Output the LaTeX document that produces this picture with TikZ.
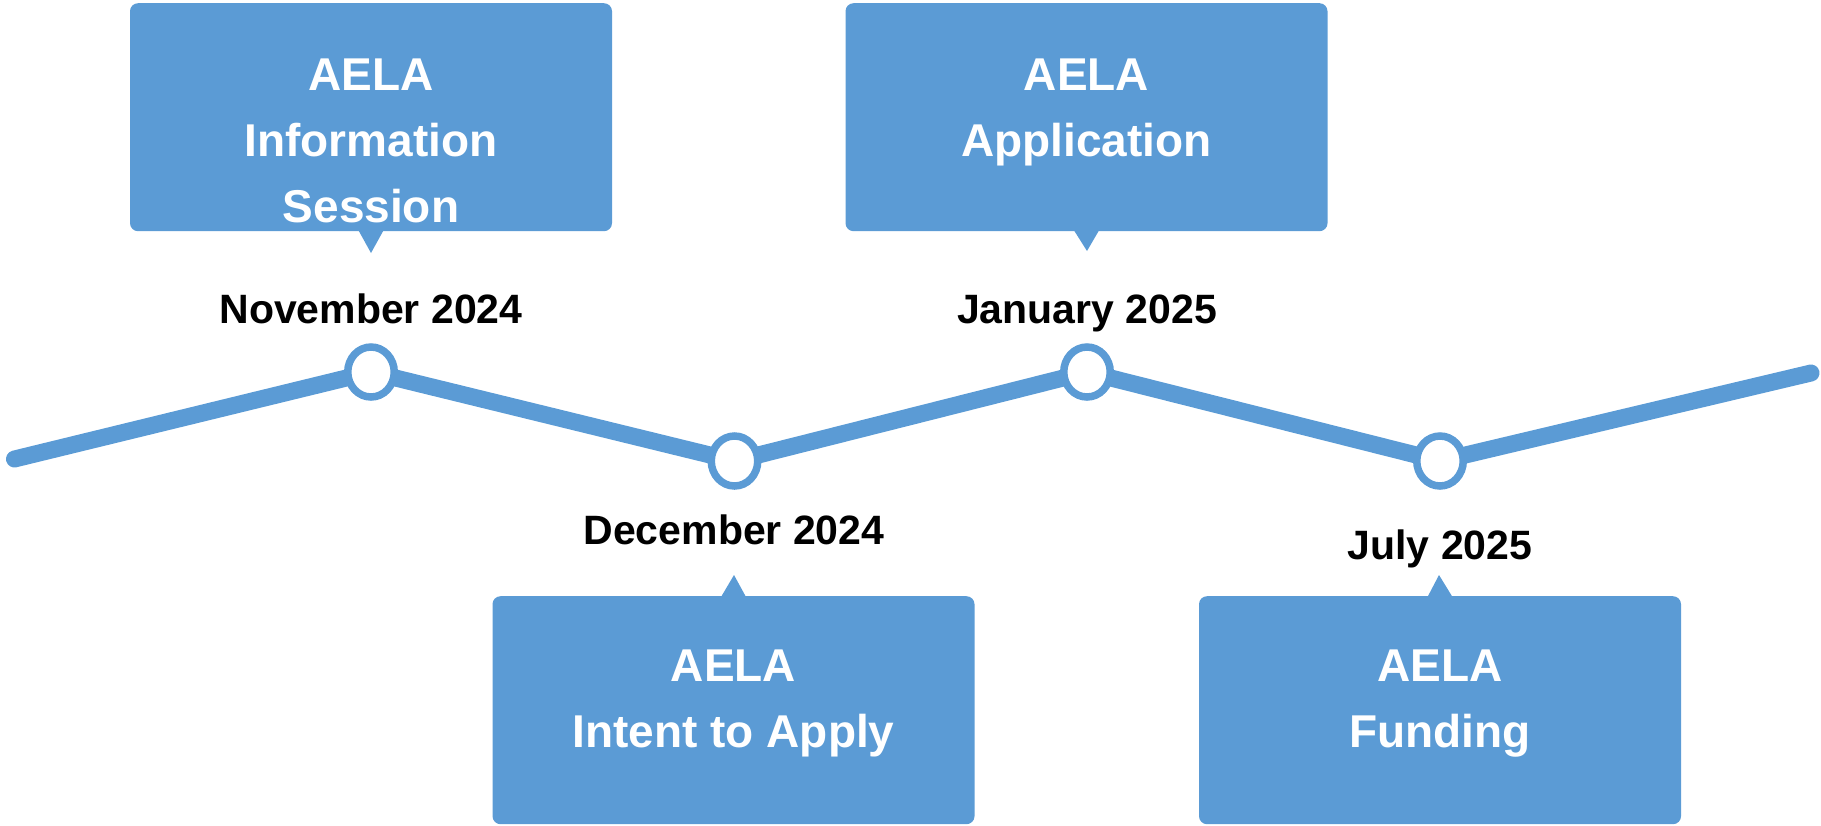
\documentclass[tikz,border=0pt]{standalone}
\usepackage{fontspec}
\setmainfont{Liberation Sans}
\usetikzlibrary{shapes.geometric}
\definecolor{aelablue}{HTML}{5B9BD5}
\begin{document}
\begin{tikzpicture}[x=1pt,y=-1pt,
  bubble/.style={fill=aelablue, rounded corners=8pt, minimum width=482pt, minimum height=228pt, inner sep=0pt, anchor=north},
  bubbletext/.style={text=white, font=\fontsize{46}{66}\selectfont\bfseries, align=center, anchor=north, inner sep=0pt},
  datelabel/.style={font=\fontsize{41}{50}\selectfont\bfseries, anchor=base, inner sep=0pt},
  timeline/.style={draw=aelablue, line width=17pt, line cap=round, line join=round},
  milestone/.style={ellipse, draw=aelablue, fill=white, line width=7.5pt, minimum width=46.5pt, minimum height=50pt, inner sep=0pt},
  pointer/.style={fill=aelablue}]

\useasboundingbox (0,0) rectangle (1821,825);

% timeline
\coordinate (p0) at (14.5,459);
\coordinate (p1) at (371,372);
\coordinate (p2) at (734.5,461);
\coordinate (p3) at (1087,372);
\coordinate (p4) at (1440,461);
\coordinate (p5) at (1811,373);
\draw[timeline] (p0) -- (p1) -- (p2) -- (p3) -- (p4) -- (p5);
\node[milestone] (d1) at (p1) {};
\node[milestone] (d2) at (p2) {};
\node[milestone] (d3) at (p3) {};
\node[milestone] (d4) at (p4) {};

% bubbles
\node[bubble] (b1) at (371,3) {};
\node[bubble] (b2) at (733.5,596) {};
\node[bubble] (b3) at (1086.5,3) {};
\node[bubble] (b4) at (1440,596) {};

\coordinate (t1) at (371,253);
\coordinate (t2) at (734,575);
\coordinate (t3) at (1087,251);
\coordinate (t4) at (1439,575);
\fill[pointer] ([xshift=-12.5pt,yshift=1pt]b1.south) -- ([xshift=12.5pt,yshift=1pt]b1.south) -- (t1) -- cycle;
\fill[pointer] ([xshift=-12.5pt,yshift=-1pt]b2.north) -- ([xshift=12.5pt,yshift=-1pt]b2.north) -- (t2) -- cycle;
\fill[pointer] ([xshift=-12.5pt,yshift=1pt]b3.south) -- ([xshift=12.5pt,yshift=1pt]b3.south) -- (t3) -- cycle;
\fill[pointer] ([xshift=-12.5pt,yshift=-1pt]b4.north) -- ([xshift=12.5pt,yshift=-1pt]b4.north) -- (t4) -- cycle;

\node[bubbletext] (l1) at ([yshift=-56pt]b1.north) {AELA\\Information\\Session};
\node[bubbletext] (l2) at ([yshift=-54pt]b2.north) {AELA\\Intent to Apply};
\node[bubbletext] (l3) at ([yshift=-56pt]b3.north) {AELA\\Application};
\node[bubbletext] (l4) at ([yshift=-54pt]b4.north) {AELA\\Funding};

% dates
\node[datelabel] (m1) at (371,323) {November 2024};
\node[datelabel] (m2) at (734,544) {December 2024};
\node[datelabel] (m3) at (1087,323) {January 2025};
\node[datelabel] (m4) at (1440,559) {July 2025};
\end{tikzpicture}
\end{document}
